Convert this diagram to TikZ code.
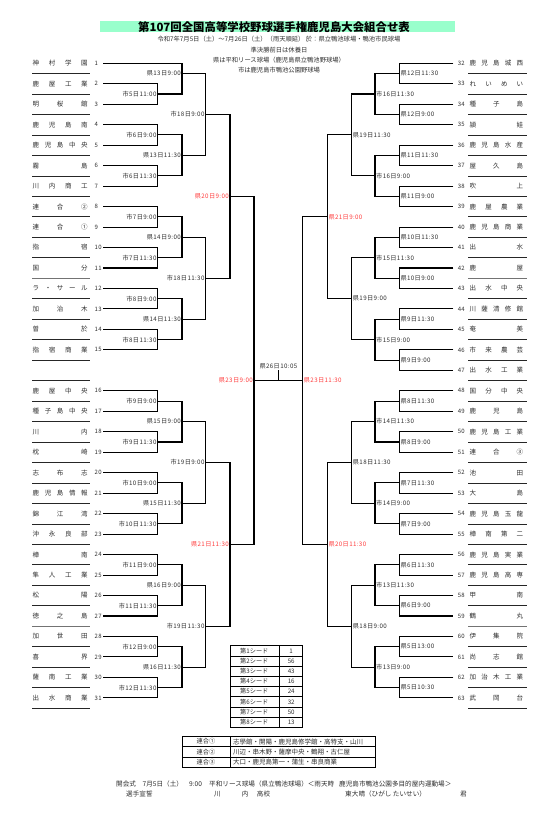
\documentclass[tikz,border=0pt]{standalone}
\usepackage{fontspec}
\setmainfont{Noto Sans CJK JP}
\newfontfamily\labfont{Noto Sans CJK JP}[LetterSpace=6.0]
\usetikzlibrary{positioning}
\definecolor{bandgreen}{RGB}{153,255,204}
\definecolor{timered}{RGB}{255,60,60}
\definecolor{inkgray}{RGB}{45,45,45}

% spread the letters of a school name over a fixed width
\makeatletter
\newcommand\spreadto[2]{\hbox to #1{\let\sp@sep\relax\edef\sp@list{#2}\expandafter\sp@loop\sp@list\@nil}}
\def\sp@loop#1{\ifx#1\@nil\else\sp@sep#1\let\sp@sep\hfil\expandafter\sp@loop\fi}
\makeatother

\begin{document}
\begin{tikzpicture}[x=1pt, y=-1pt,
    br/.style={line width=1.1pt, black},
    uline/.style={line width=0.7pt, black!85},
    sepline/.style={line width=1.3pt, black!55},
    tname/.style={font=\fontsize{6.5pt}{7pt}\selectfont, inner sep=0pt, text=inkgray},
    tnum/.style={font=\labfont\fontsize{6pt}{7pt}\selectfont, inner sep=0pt, text=inkgray},
    labL/.style={font=\labfont\fontsize{6.2pt}{7pt}\selectfont, anchor=east, inner sep=1pt},
    labR/.style={font=\labfont\fontsize{6.2pt}{7pt}\selectfont, anchor=west, inner sep=1pt},
    head/.style={font=\fontsize{6.3pt}{7pt}\selectfont, inner sep=0pt, text=inkgray},
    foot/.style={font=\fontsize{6.6pt}{7pt}\selectfont, inner sep=0pt, text=inkgray, anchor=west},
    tbl/.style={line width=0.6pt, black},
    tbltext/.style={font=\fontsize{6.2pt}{7pt}\selectfont, inner sep=0pt, text=inkgray}
  ]
  \useasboundingbox (0,0) rectangle (553,824);

  % heading
  \fill[bandgreen] (100,21) rectangle (455,32.3);
  \node[font=\fontsize{11.4pt}{12pt}\selectfont\bfseries, inner sep=0pt] (title) at (274,26.7) {第107回全国高等学校野球選手権鹿児島大会組合せ表};
  \node[head] (sub1) at (279,39.3) {令和7年7月5日（土）～7月26日（土）（雨天順延）\ 於：県立鴨池球場・鴨池市民球場};
  \node[head] (sub2) at (279,50) {準決勝前日は休養日};
  \node[head] (sub3) at (279,60.3) {県は平和リース球場（鹿児島県立鴨池野球場）};
  \node[head] (sub4) at (279,70.5) {市は鹿児島市鴨池公園野球場};

  \begin{scope}[yshift=-63.3pt, y=-20.47pt]
    % name underlines
    \foreach \r in {0,...,31} {
      \draw[uline] (32,\r+0.5) -- (90,\r+0.5);
      \draw[uline] (468,\r+0.5) -- (527,\r+0.5);
    }
    \foreach \r in {10,27} {
      \draw[sepline] (32,\r+0.5) -- (90,\r+0.5);
      \draw[sepline] (468,\r+0.5) -- (527,\r+0.5);
    }
    % left schools
    \foreach \k/\nm/\r in {1/神村学園/0, 2/鹿屋工業/1, 3/明桜館/2, 4/鹿児島南/3,
        5/鹿児島中央/4, 6/霧島/5, 7/川内商工/6, 8/連合②/7, 9/連合①/8, 10/指宿/9,
        11/国分/10, 12/ラ・サール/11, 13/加治木/12, 14/曽於/13, 15/指宿商業/14,
        16/鹿屋中央/16, 17/種子島中央/17, 18/川内/18, 19/枕崎/19, 20/志布志/20,
        21/鹿児島情報/21, 22/錦江湾/22, 23/沖永良部/23, 24/樟南/24, 25/隼人工業/25,
        26/松陽/26, 27/徳之島/27, 28/加世田/28, 29/喜界/29, 30/薩南工業/30, 31/出水商業/31} {
      \node[tname, anchor=west] (nm\k) at (32.5,\r) {\spreadto{55pt}{\nm}};
      \node[tnum, anchor=west] (no\k) at (94.5,\r) {\k};
      \coordinate (t\k) at (103,\r);
    }
    % right schools
    \foreach \k/\nm/\r in {32/鹿児島城西/0, 33/れいめい/1, 34/種子島/2, 35/頴娃/3,
        36/鹿児島水産/4, 37/屋久島/5, 38/吹上/6, 39/鹿屋農業/7, 40/鹿児島商業/8,
        41/出水/9, 42/鹿屋/10, 43/出水中央/11, 44/川薩清修館/12, 45/奄美/13,
        46/市来農芸/14, 47/出水工業/15, 48/国分中央/16, 49/鹿児島/17, 50/鹿児島工業/18,
        51/連合③/19, 52/池田/20, 53/大島/21, 54/鹿児島玉龍/22, 55/樟南第二/23,
        56/鹿児島実業/24, 57/鹿児島高専/25, 58/甲南/26, 59/鶴丸/27, 60/伊集院/28,
        61/尚志館/29, 62/加治木工業/30, 63/武岡台/31} {
      \node[tname, anchor=west] (nm\k) at (469.5,\r) {\spreadto{53.5pt}{\nm}};
      \node[tnum, anchor=east] (no\k) at (465,\r) {\k};
      \coordinate (t\k) at (453.3,\r);
    }

    % left half, round by round
    \foreach \id/\x/\r/\a/\b/\txt/\col in {
        la1/157.7/1.5/t2/t3/市5日11:00/inkgray, la2/157.7/3.5/t4/t5/市6日9:00/inkgray,
        la3/157.7/5.5/t6/t7/市6日11:30/inkgray, la4/157.7/7.5/t8/t9/市7日9:00/inkgray,
        la5/157.7/9.5/t10/t11/市7日11:30/inkgray, la6/157.7/11.5/t12/t13/市8日9:00/inkgray,
        la7/157.7/13.5/t14/t15/市8日11:30/inkgray, la8/157.7/16.5/t16/t17/市9日9:00/inkgray,
        la9/157.7/18.5/t18/t19/市9日11:30/inkgray, la10/157.7/20.5/t20/t21/市10日9:00/inkgray,
        la11/157.7/22.5/t22/t23/市10日11:30/inkgray, la12/157.7/24.5/t24/t25/市11日9:00/inkgray,
        la13/157.7/26.5/t26/t27/市11日11:30/inkgray, la14/157.7/28.5/t28/t29/市12日9:00/inkgray,
        la15/157.7/30.5/t30/t31/市12日11:30/inkgray,
        lb1/182/0.5/t1/la1/県13日9:00/inkgray, lb2/182/4.5/la2/la3/県13日11:30/inkgray,
        lb3/182/8.5/la4/la5/県14日9:00/inkgray, lb4/182/12.5/la6/la7/県14日11:30/inkgray,
        lb5/182/17.5/la8/la9/県15日9:00/inkgray, lb6/182/21.5/la10/la11/県15日11:30/inkgray,
        lb7/182/25.5/la12/la13/県16日9:00/inkgray, lb8/182/29.5/la14/la15/県16日11:30/inkgray,
        lc1/205.7/2.5/lb1/lb2/市18日9:00/inkgray, lc2/205.7/10.5/lb3/lb4/市18日11:30/inkgray,
        lc3/205.7/19.5/lb5/lb6/市19日9:00/inkgray, lc4/205.7/27.5/lb7/lb8/市19日11:30/inkgray,
        ld1/230/6.5/lc1/lc2/県20日9:00/timered, ld2/230/23.5/lc3/lc4/県21日11:30/timered,
        lsf/254/15.5/ld1/ld2/県23日9:00/timered} {
      \coordinate (\id) at (\x,\r);
      \draw[br] (\a) -| (\id) |- (\b);
      \node[labL, text=\col] (n\id) at (\id) {\txt};
    }

    % right half, round by round
    \foreach \id/\x/\r/\a/\b/\txt/\col in {
        ra1/399.3/0.5/t32/t33/県12日11:30/inkgray, ra2/399.3/2.5/t34/t35/県12日9:00/inkgray,
        ra3/399.3/4.5/t36/t37/県11日11:30/inkgray, ra4/399.3/6.5/t38/t39/県11日9:00/inkgray,
        ra5/399.3/8.5/t40/t41/県10日11:30/inkgray, ra6/399.3/10.5/t42/t43/県10日9:00/inkgray,
        ra7/399.3/12.5/t44/t45/県9日11:30/inkgray, ra8/399.3/14.5/t46/t47/県9日9:00/inkgray,
        ra9/399.3/16.5/t48/t49/県8日11:30/inkgray, ra10/399.3/18.5/t50/t51/県8日9:00/inkgray,
        ra11/399.3/20.5/t52/t53/県7日11:30/inkgray, ra12/399.3/22.5/t54/t55/県7日9:00/inkgray,
        ra13/399.3/24.5/t56/t57/県6日11:30/inkgray, ra14/399.3/26.5/t58/t59/県6日9:00/inkgray,
        ra15/399.3/28.5/t60/t61/県5日13:00/inkgray, ra16/399.3/30.5/t62/t63/県5日10:30/inkgray,
        rb1/375/1.5/ra1/ra2/市16日11:30/inkgray, rb2/375/5.5/ra3/ra4/市16日9:00/inkgray,
        rb3/375/9.5/ra5/ra6/市15日11:30/inkgray, rb4/375/13.5/ra7/ra8/市15日9:00/inkgray,
        rb5/375/17.5/ra9/ra10/市14日11:30/inkgray, rb6/375/21.5/ra11/ra12/市14日9:00/inkgray,
        rb7/375/25.5/ra13/ra14/市13日11:30/inkgray, rb8/375/29.5/ra15/ra16/市13日9:00/inkgray,
        rc1/351.7/3.5/rb1/rb2/県19日11:30/inkgray, rc2/351.7/11.5/rb3/rb4/県19日9:00/inkgray,
        rc3/351.7/19.5/rb5/rb6/県18日11:30/inkgray, rc4/351.7/27.5/rb7/rb8/県18日9:00/inkgray,
        rd1/327.3/7.5/rc1/rc2/県21日9:00/timered, rd2/327.3/23.5/rc3/rc4/県20日11:30/timered,
        rsf/302.7/15.5/rd1/rd2/県23日11:30/timered} {
      \coordinate (\id) at (\x,\r);
      \draw[br] (\a) -| (\id) |- (\b);
      \node[labR, text=\col] (n\id) at (\id) {\txt};
    }

    % final
    \draw[br] (lsf) -- (rsf);
    \coordinate (fin) at (278.4,15.5);
    \node[labL, anchor=south, inner sep=0.5pt, text=inkgray, above=10.5pt of fin] (nfin) {県26日10:05};
    \draw[br] (fin) -- (nfin.south);
  \end{scope}

  % seeds
  \draw[tbl] (230.7,645.7) rectangle (302.3,727.3);
  \draw[tbl] (279,645.7) -- (279,727.3);
  \foreach \i in {1,...,7}
    \draw[tbl] (230.7,{645.7+10.2*\i}) -- (302.3,{645.7+10.2*\i});
  \foreach \i/\v in {1/1, 2/56, 3/43, 4/16, 5/24, 6/32, 7/50, 8/13} {
    \node[tbltext] (sd\i) at (254.3,{645.7+10.2*(\i-0.5)}) {第{\i}シード};
    \node[tbltext] (sv\i) at (291.2,{645.7+10.2*(\i-0.5)}) {\v};
  }

  % combined teams
  \draw[tbl] (182,736.5) rectangle (375,767);
  \draw[tbl] (230,736.5) -- (230,767);
  \draw[tbl] (182,746.7) -- (375,746.7);
  \draw[tbl] (182,756.8) -- (375,756.8);
  \foreach \i/\sch [count=\j] in {①/志學館・開陽・鹿児島修学館・高特支・山川,
      ②/川辺・串木野・薩摩中央・鶴翔・古仁屋, ③/大口・鹿児島第一・蒲生・串良商業} {
    \node[tbltext] (rg\j) at (206,{736.5+10.15*(\j-0.5)}) {連合{\i}};
    \node[tbltext, font=\fontsize{6.5pt}{7pt}\selectfont, anchor=west] (rm\j) at (233,{736.5+10.15*(\j-0.5)}) {\sch};
  }

  % opening ceremony
  \node[foot] (open1) at (116,784) {開会式};
  \node[foot] (open2) at (142.5,784) {7月5日（土）};
  \node[foot] (open3) at (189,784) {9:00};
  \node[foot] (open4) at (209,784) {平和リース球場（県立鴨池球場）＜雨天時};
  \node[foot] (open5) at (339,784) {鹿児島市鴨池公園多目的屋内運動場＞};
  \node[foot] (oath) at (126,794) {選手宣誓};
  \node[foot] (oath1) at (214,794) {川};
  \node[foot] (oath2) at (241.7,794) {内};
  \node[foot] (oath3) at (256.7,794) {高校};
  \node[foot] (oath4) at (345,794) {東};
  \node[foot] (oath5) at (351.7,794) {大晴（ひがし\ たいせい）};
  \node[foot] (oath6) at (460,794) {君};
\end{tikzpicture}
\end{document}
